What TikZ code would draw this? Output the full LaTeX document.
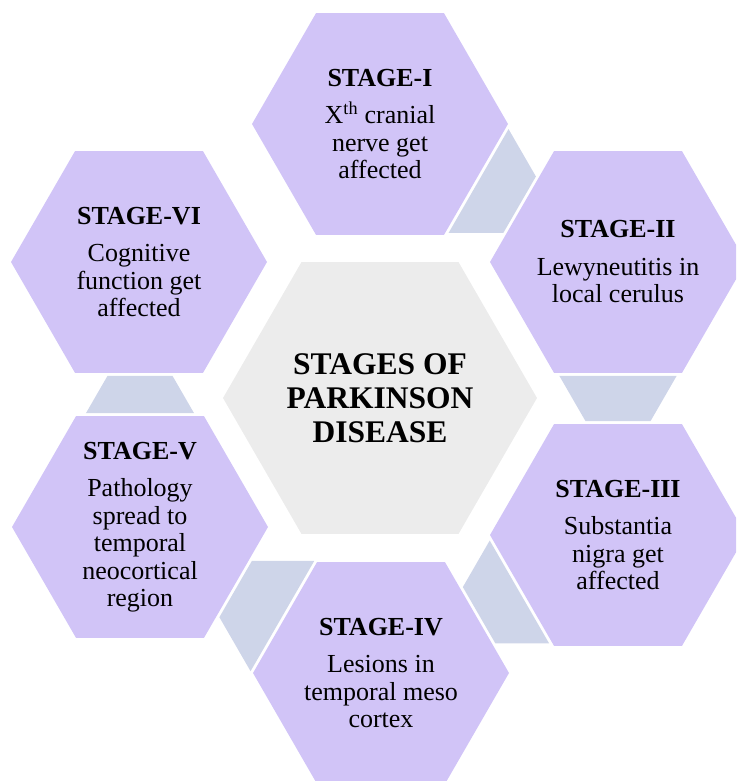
\documentclass[tikz,border=0pt]{standalone}
\usepackage{fontspec}
\setmainfont{Liberation Serif}
\usetikzlibrary{calc,shapes.geometric}
\definecolor{hexfill}{RGB}{209,196,247}
\definecolor{connfill}{RGB}{206,213,233}
\definecolor{centerfill}{RGB}{236,236,236}
% trapezoid connector from hexagon #1 (wide side) towards hexagon #2 (narrow side),
% axis leaving #1 at canvas angle #3
\newcommand{\hexconn}[3]{%
  \path[conn] let \p1=(#1), \p2=(#2),
    \n1={(\x2-\x1)*cos(#3)+(\y2-\y1)*sin(#3)},
    \n2={\n1-2*113.85pt},
    \n3={32.5pt+0.57735*\n2},
    \n4={\n1-113.85pt} in
    ($(#1)+(#3:113.85pt)+(#3+90:\n3)$) --
    ($(#1)+(#3:113.85pt)+(#3-90:\n3)$) --
    ($(#1)+(#3:\n4)+(#3-90:32.5pt)$) --
    ($(#1)+(#3:\n4)+(#3+90:32.5pt)$) -- cycle;}
\begin{document}
\begin{tikzpicture}[x=1pt,y=-1pt,
  hexagon/.style={regular polygon, regular polygon sides=6, minimum size=256pt,
    inner sep=0pt, outer sep=0pt, fill=hexfill, draw=none},
  hub/.style={hexagon, minimum size=314pt, fill=centerfill},
  conn/.style={fill=connfill},
  stagetext/.style={align=center, inner sep=0pt, font=\fontsize{26}{27.5}\selectfont},
  hubtext/.style={align=center, inner sep=0pt, font=\bfseries\fontsize{31.5}{34}\selectfont}]
\useasboundingbox (0,0) rectangle (736,781);
\clip (0,0) rectangle (736,781);

\node[hub] (hub) at (380,398) {};
\node[hexagon] (s1) at (380,124) {};
\node[hexagon] (s2) at (618,262) {};
\node[hexagon] (s3) at (618,535) {};
\node[hexagon] (s4) at (381,673) {};
\node[hexagon] (s5) at (140,527) {};
\node[hexagon] (s6) at (139,262) {};

\hexconn{s1}{s2}{-30}
\hexconn{s2}{s3}{-90}
\hexconn{s3}{s4}{-150}
\hexconn{s4}{s5}{150}
\hexconn{s5}{s6}{90}

\node[hubtext] (ht) at (hub) {STAGES OF\\PARKINSON\\DISEASE};
\node[stagetext] (t1) at (s1) {\textbf{STAGE-I}\\[10pt]X\textsuperscript{th} cranial\\nerve get\\affected};
\node[stagetext] (t2) at (s2) {\textbf{STAGE-II}\\[10pt]Lewyneutitis in\\local cerulus};
\node[stagetext] (t3) at (s3) {\textbf{STAGE-III}\\[10pt]Substantia\\nigra get\\affected};
\node[stagetext] (t4) at (s4) {\textbf{STAGE-IV}\\[10pt]Lesions in\\temporal meso\\cortex};
\node[stagetext] (t5) at (s5) {\textbf{STAGE-V}\\[10pt]Pathology\\spread to\\temporal\\neocortical\\region};
\node[stagetext] (t6) at (s6) {\textbf{STAGE-VI}\\[10pt]Cognitive\\function get\\affected};
\end{tikzpicture}
\end{document}
